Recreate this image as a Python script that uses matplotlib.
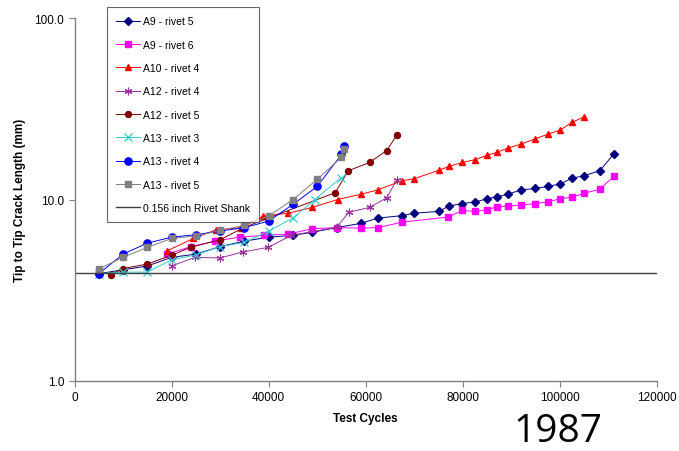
import matplotlib
matplotlib.use("Agg")
import matplotlib.pyplot as plt
from matplotlib.ticker import FixedLocator, FuncFormatter, NullLocator

plt.rcParams['font.family'] = ['Liberation Sans', 'DejaVu Sans']

# ---- data ----
a9r5_x = [5000, 10000, 15000, 20000, 25000, 30000, 35000, 40000, 45000, 49000, 54000, 59100, 62500,
          67500, 69900, 75100, 77100, 79900, 82600, 85000, 87000, 89300, 92000, 94900, 97500,
          100100, 102500, 104900, 108200, 111100]
a9r5_y = [3.9, 4.1, 4.3, 4.8, 5.0, 5.5, 5.9, 6.2, 6.35, 6.6, 7.0, 7.4, 7.9,
          8.15, 8.4, 8.6, 9.2, 9.5, 9.7, 10.1, 10.35, 10.7, 11.3, 11.5, 11.8,
          12.2, 13.1, 13.5, 14.4, 17.8]

a9r6_x = [19000, 24000, 29000, 34000, 39000, 44000, 49000, 54000, 59100, 62500, 67500, 76900,
          79900, 82600, 85000, 87000, 89300, 92000, 94900, 97500, 100100, 102500, 104900,
          108200, 111100]
a9r6_y = [5.0, 5.5, 5.9, 6.2, 6.35, 6.45, 6.9, 7.0, 6.95, 7.0, 7.5, 8.0,
          8.7, 8.6, 8.8, 9.1, 9.2, 9.3, 9.5, 9.7, 10.1, 10.3, 10.8,
          11.4, 13.4]

a10r4_x = [19000, 24500, 29100, 34400, 38900, 44000, 49000, 54200, 59100, 62500, 67500, 69900,
           75100, 77100, 79900, 82600, 85000, 87000, 89300, 92000, 94900, 97500, 100100,
           102500, 104900]
a10r4_y = [5.2, 6.1, 6.8, 7.0, 8.1, 8.4, 9.05, 10.0, 10.7, 11.3, 12.7, 13.0,
           14.5, 15.2, 16.0, 16.6, 17.5, 18.2, 19.2, 20.2, 21.6, 22.9, 24.2,
           26.6, 28.5]

a12r4_x = [20000, 24800, 29900, 34700, 39900, 44700, 54000, 56500, 60800, 64300, 66400]
a12r4_y = [4.3, 4.8, 4.76, 5.14, 5.45, 6.35, 7.03, 8.5, 9.05, 10.2, 12.85]

a12r5_x = [7450, 10000, 15000, 20000, 24000, 30000, 34700, 39900, 53700, 56400, 60800, 64300, 66400]
a12r5_y = [3.85, 4.16, 4.41, 4.93, 5.46, 6.0, 6.97, 7.9, 10.9, 14.4, 16.0, 18.6, 22.6]

a13r3_x = [5000, 10000, 15000, 20000, 25000, 30000, 35000, 40000, 45000, 49500, 54800]
a13r3_y = [3.9, 3.98, 3.98, 4.65, 4.95, 5.5, 5.8, 6.7, 7.9, 10.0, 13.1]

a13r4_x = [5000, 10000, 15000, 20000, 25000, 30000, 35000, 40000, 45000, 50000, 55000, 55500]
a13r4_y = [3.9, 5.0, 5.75, 6.2, 6.4, 6.7, 7.0, 7.6, 9.4, 11.8, 17.7, 19.6]

a13r5_x = [5000, 10000, 15000, 20000, 25000, 30000, 35000, 40000, 45000, 50000, 55000, 55500]
a13r5_y = [4.15, 4.8, 5.45, 6.1, 6.3, 6.75, 7.2, 8.1, 10.0, 12.9, 17.1, 19.0]

shank_mm = 3.96
labels = ['A9 - rivet 5', 'A9 - rivet 6', 'A10 - rivet 4', 'A12 - rivet 4', 'A12 - rivet 5',
          'A13 - rivet 3', 'A13 - rivet 4', 'A13 - rivet 5', '0.156 inch Rivet Shank']
x_ticks = [0, 20000, 40000, 60000, 80000, 100000, 120000]
y_ticks = [1.0, 10.0, 100.0]

# ---- figure ----
fig = plt.figure(figsize=(6.79, 4.52), dpi=100)
ax = fig.add_axes([74.5 / 679, 1 - 382 / 452, (657 - 74.5) / 679, (382 - 19) / 452])

series = [
    (a9r5_x, a9r5_y, '#000080', 'D', 3.8, {}),
    (a9r6_x, a9r6_y, '#FF00FF', 's', 4.6, {}),
    (a10r4_x, a10r4_y, '#FF0000', '^', 5.0, {}),
    (a12r4_x, a12r4_y, '#993399', (6, 2, 0), 5.5, {'markeredgewidth': 0.8}),
    (a12r5_x, a12r5_y, '#800000', 'o', 4.3, {}),
    (a13r3_x, a13r3_y, '#33CCCC', 'x', 5.5, {'markeredgewidth': 0.9}),
    (a13r4_x, a13r4_y, '#0000FF', 'o', 5.2, {}),
    (a13r5_x, a13r5_y, '#808080', 's', 4.6, {}),
]
handles = []
for (xs, ys, c, m, ms, kw), lab in zip(series, labels[:8]):
    h, = ax.plot(xs, ys, color=c, lw=0.7, marker=m, markersize=ms,
                 markerfacecolor=c, markeredgecolor=c, label=lab, **kw)
    handles.append(h)
h = ax.axhline(shank_mm, color='#404040', lw=1.0, label=labels[8])
handles.append(h)

ax.set_yscale('log')
ax.set_xlim(0, 120000)
ax.set_ylim(1, 100)
ax.xaxis.set_major_locator(FixedLocator(x_ticks))
ax.yaxis.set_major_locator(FixedLocator(y_ticks))
ax.yaxis.set_minor_locator(NullLocator())
ax.yaxis.set_major_formatter(FuncFormatter(lambda v, p: f'{v:.1f}'))
ax.xaxis.set_major_formatter(FuncFormatter(lambda v, p: f'{int(v)}'))
ax.tick_params(axis='both', labelsize=8.5, labelcolor='#000000', length=4, width=0.8,
               color='#808080')
for s in ['top', 'right']:
    ax.spines[s].set_visible(False)
for s in ['left', 'bottom']:
    ax.spines[s].set_color('#808080')
    ax.spines[s].set_linewidth(1.0)

ax.set_xlabel('Test Cycles', fontsize=8.5, fontweight='bold', labelpad=6)
ax.set_ylabel('Tip to Tip Crack Length (mm)', fontsize=8.5, fontweight='bold', labelpad=6)

leg = ax.legend(handles=handles, loc='upper left',
                bbox_to_anchor=(107 / 679, 1 - 8 / 452), bbox_transform=fig.transFigure,
                fontsize=7.5, frameon=True, fancybox=False, edgecolor='#404040',
                labelspacing=1.28, handlelength=2.3, handletextpad=0.25,
                borderpad=0.9, borderaxespad=0.0)
leg.get_frame().set_linewidth(0.8)

fig.text(558 / 679, 1 - 451 / 452, '1987', fontsize=28, ha='center', va='bottom',
         family=['Open Sans', 'DejaVu Sans'])

fig.savefig('out.png', dpi=100)
